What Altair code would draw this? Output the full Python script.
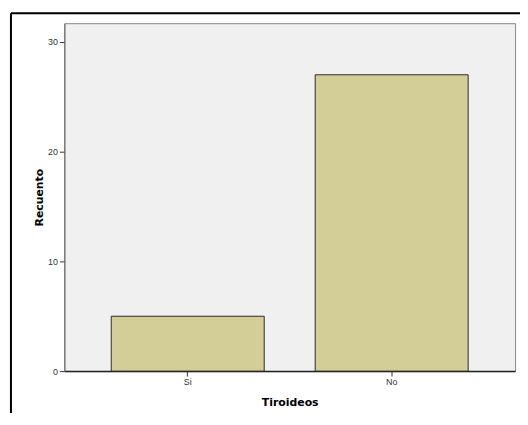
import altair as alt
import pandas as pd

categories = ["Si", "No"]
counts = [5, 27]

df = pd.DataFrame({"Tiroideos": categories, "Recuento": counts})
one = pd.DataFrame({"a": [0]})

bars = alt.Chart(df).mark_bar(
    color="#d3ce98", stroke="#2a2a2a", strokeWidth=1
).encode(
    x=alt.X("Tiroideos:N", sort=categories,
            scale=alt.Scale(paddingInner=0.25, paddingOuter=0.23),
            axis=alt.Axis(title="Tiroideos", labelAngle=0, labelFontSize=9,
                          labelColor="#333333", labelFont="Liberation Sans",
                          tickColor="#333333", tickSize=5, labelPadding=2,
                          domainColor="#222222", domainWidth=1.5,
                          titleFont="DejaVu Sans", titleFontSize=11,
                          titleFontWeight="bold", titleColor="#000000",
                          titlePadding=10)),
    y=alt.Y("Recuento:Q", scale=alt.Scale(domain=[0, 31.7], nice=False),
            axis=alt.Axis(title="Recuento", values=[0, 10, 20, 30], grid=False,
                          labelFontSize=9, labelColor="#333333",
                          labelFont="Liberation Sans", tickColor="#333333",
                          tickSize=5, labelPadding=2, domainColor="#666666",
                          titleFont="DejaVu Sans", titleFontSize=11,
                          titleFontWeight="bold", titleColor="#000000",
                          titlePadding=3)),
)

top_border = alt.Chart(one).mark_rule(color="black", strokeWidth=2).encode(
    x=alt.value(-54), x2=alt.value(470), y=alt.value(-10)
)
left_border = alt.Chart(one).mark_rule(color="black", strokeWidth=2).encode(
    x=alt.value(-54), y=alt.value(-10), y2=alt.value(420)
)

chart = alt.layer(bars, top_border, left_border).properties(
    width=456, height=352,
    autosize=alt.AutoSizeParams(type="none"),
    padding={"left": 57, "top": 13, "right": 5, "bottom": 40},
    background="white",
).configure_view(fill="#f0f0f0", stroke="#888888", strokeWidth=1)

chart.save("out.html", embed_options={"renderer": "svg", "actions": False})
